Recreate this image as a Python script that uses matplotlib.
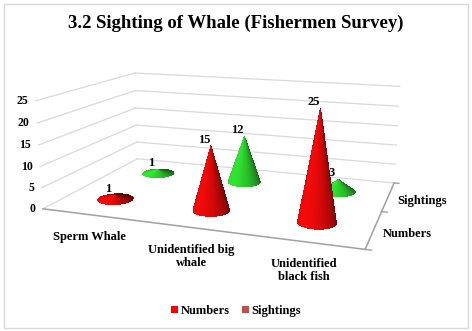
import numpy as np
import matplotlib
matplotlib.use("Agg")
import matplotlib.pyplot as plt
from matplotlib.patches import Patch, Rectangle
from matplotlib.colors import LightSource
from mpl_toolkits.mplot3d import proj3d

categories = ["Sperm Whale", "Unidentified big\nwhale", "Unidentified\nblack fish"]
series = ["Numbers", "Sightings"]
numbers = [1, 15, 25]
sightings = [1, 12, 3]
zticks = [0, 5, 10, 15, 20, 25]

cone_colors = {"Numbers": "#ff0a0a", "Sightings": "#33ee33"}
legend_colors = {"Numbers": "#ff0000", "Sightings": "#c0504d"}

plt.rcParams['font.family'] = ['Liberation Serif', 'DejaVu Serif']
plt.rcParams['font.weight'] = 'bold'

W, H = 472, 331
fig = plt.figure(figsize=(W / 100, H / 100), dpi=100)
fig.patches.append(Rectangle((0.008, 0.01), 0.984, 0.978, transform=fig.transFigure,
                             fill=False, edgecolor='#d9d9d9', lw=1.0))
fig.text(0.5, 1 - 23.5 / H, "3.2 Sighting of Whale (Fishermen Survey)", ha='center',
         va='center', fontsize=13.5, fontweight='bold')

ax = fig.add_axes([0.05, 0.12, 0.9, 0.84], projection='3d')
ax.set_axis_off()

xmin, xmax = -0.5, 2.5
ymin, ymax = -0.5, 1.5
zmax = zticks[-1]
ax.set_xlim(xmin, xmax)
ax.set_ylim(ymin, ymax)
ax.set_zlim(0, zmax)

# ---- fit the camera so the floor/walls sit where the reference frame is (layout only)
frame3d = np.array([[xmin, ymin, 0], [xmax, ymin, 0], [xmin, ymax, 0], [xmax, ymax, 0],
                    [xmin, ymin, zmax], [xmin, ymax, zmax], [xmax, ymax, zmax]], float)
frame_px = np.array([[43, 208], [365, 250], [137, 160], [394, 182],
                     [36, 101], [135, 73], [400, 86]], float)
target = np.column_stack([frame_px[:, 0], H - frame_px[:, 1]])

def setup(p):
    elev, azim, focal, by, bz, zoom = p
    ax.view_init(elev=elev, azim=azim)
    ax.set_proj_type('persp', focal_length=focal)
    ax.set_box_aspect((3.0, by, bz), zoom=zoom)

def project(pts):
    M = ax.get_proj()
    xs, ys, _ = proj3d.proj_transform(pts[:, 0], pts[:, 1], pts[:, 2], M)
    return ax.transData.transform(np.column_stack([xs, ys]))

fig.canvas.draw()

def err(p):
    if p[2] < 0.08 or p[3] < 0.3 or p[4] < 0.2 or p[5] < 0.3:
        return 1e12
    setup(p)
    d = project(frame3d) - target
    d -= d.mean(axis=0)
    return float((d ** 2).sum())

p = np.array([15.0, -62.0, 0.4, 1.7, 0.85, 1.45])
steps = np.array([3.0, 3.0, 0.1, 0.3, 0.15, 0.15])
best = err(p)
for it in range(120):
    improved = False
    for k in range(len(p)):
        for sgn in (1, -1):
            q = p.copy()
            q[k] += sgn * steps[k]
            e = err(q)
            if e < best:
                p, best, improved = q, e, True
    if not improved:
        steps *= 0.5
        if steps.max() < 1e-3:
            break

setup(p)
off = (target - project(frame3d)).mean(axis=0)
pos = ax.get_position(original=True)
ax.set_position([pos.x0 + off[0] / W, pos.y0 + off[1] / H, pos.width, pos.height])
fig.canvas.draw()

# ---- walls, floor edges
grid_c = '#d9d9d9'
for t in zticks:
    ax.plot([xmin, xmin], [ymin, ymax], [t, t], color=grid_c, lw=0.9, clip_on=False)
    ax.plot([xmin, xmax], [ymax, ymax], [t, t], color=grid_c, lw=0.9, clip_on=False)

edge_c = '#a0a0a0'
ax.plot([xmin, xmax], [ymin, ymin], [0, 0], color=edge_c, lw=1.1, clip_on=False)
ax.plot([xmax, xmax], [ymin, ymax], [0, 0], color=edge_c, lw=1.1, clip_on=False)
for yv in [ymin, 0.5, ymax]:
    ax.plot([xmax, xmax + 0.05], [yv, yv], [0, 0], color=edge_c, lw=1.0, clip_on=False)

# ---- cones
by, bz = p[3], p[4]
Rx = 0.17
Ry = Rx * (ymax - ymin) / by
theta = np.linspace(0, 2 * np.pi, 61)
sfrac = np.linspace(0, 1, 13)
T, S = np.meshgrid(theta, sfrac)
ls = LightSource(azdeg=210, altdeg=30)

for j, (s, vals) in enumerate(zip(series, [numbers, sightings])):
    for i, v in enumerate(vals):
        X = i + Rx * (1 - S) * np.cos(T)
        Y = j + Ry * (1 - S) * np.sin(T)
        Z = S * v
        surf = ax.plot_surface(X, Y, Z, color=cone_colors[s], shade=True, lightsource=ls,
                               linewidth=0, antialiased=False, rcount=13, ccount=61)
        surf.set_clip_on(False)

# ---- text placed at projected anchor points
def label(x, y, z, s, dx=0, dy=0, **kw):
    (px, py), = project(np.array([[x, y, z]], float))
    fig.text(px / W, py / H, s, fontweight='bold', **kw,
             transform=fig.transFigure + matplotlib.transforms.ScaledTranslation(
                 dx / 72, dy / 72, fig.dpi_scale_trans))

for t in zticks:
    label(xmin, ymin, t, str(t), dx=-5.5, dy=0, ha='right', va='center', fontsize=8.5)
for i, c in enumerate(categories):
    label(i, ymin, 0, c, dx=0, dy=-12, ha='center', va='top', fontsize=9,
          linespacing=1.05)
for j, s in enumerate(series):
    label(xmax, j, 0, s, dx=6.5, dy=-3.4, ha='left', va='center', fontsize=9)
for j, vals in enumerate([numbers, sightings]):
    for i, v in enumerate(vals):
        label(i, j, v, str(v), dx=-5, dy=4.5, ha='center', va='center', fontsize=9)

handles = [Patch(facecolor=legend_colors[s], edgecolor='none', label=s) for s in series]
fig.legend(handles=handles, loc='center', bbox_to_anchor=(0.5, 1 - 311 / H), ncol=2,
           frameon=False, handlelength=0.55, handleheight=0.55, handletextpad=0.2,
           columnspacing=1.0, prop={'weight': 'bold', 'size': 9})

fig.savefig("out.png", dpi=100)
